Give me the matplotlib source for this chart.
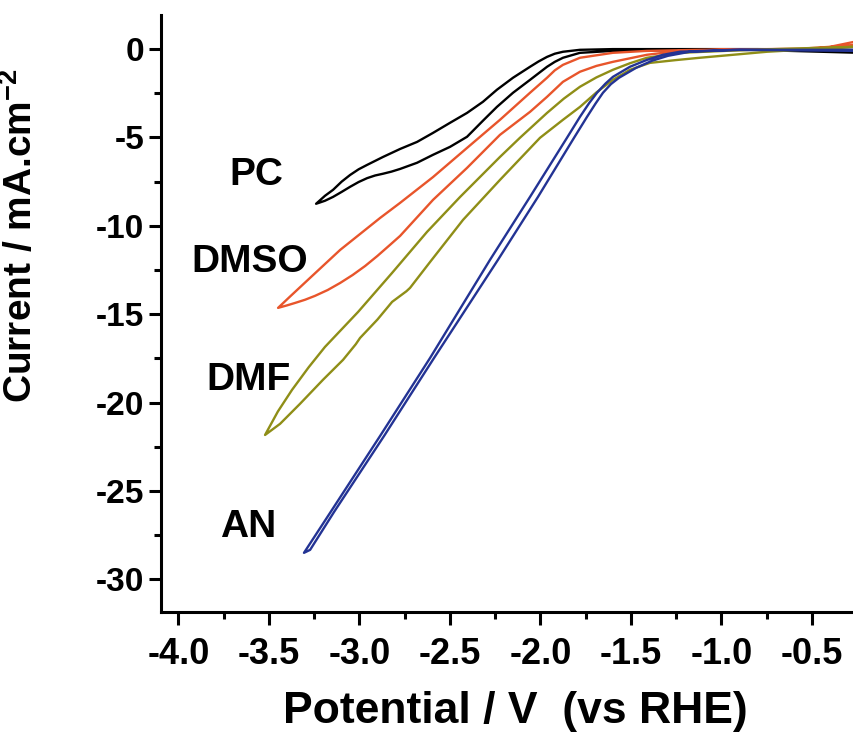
import matplotlib
matplotlib.use("Agg")
import matplotlib.pyplot as plt
from matplotlib.ticker import MultipleLocator, FormatStrFormatter

plt.rcParams['font.family'] = ['Liberation Sans', 'DejaVu Sans']
plt.rcParams['font.weight'] = 'bold'
plt.rcParams['axes.unicode_minus'] = False
plt.rcParams['mathtext.fontset'] = 'custom'
plt.rcParams['mathtext.rm'] = 'Liberation Sans:bold'
plt.rcParams['mathtext.bf'] = 'Liberation Sans:bold'

# PC (black) - two branches of the sweep, both starting at the vertex
pc_x_a = [-3.239, -3.190, -3.145, -3.098, -3.051, -3.004, -2.957, -2.869, -2.775, -2.681,
          -2.593, -2.499, -2.405, -2.317, -2.240, -2.151, -2.057, -2.010, -1.963, -1.920,
          -1.875, -1.781, -1.599, -1.2, -0.8, -0.27]
pc_y_a = [-8.75, -8.30, -7.96, -7.50, -7.12, -6.80, -6.55, -6.10, -5.65, -5.25,
          -4.74, -4.17, -3.61, -2.98, -2.30, -1.62, -1.00, -0.70, -0.44, -0.26,
          -0.15, -0.04, 0.0, 0.0, 0.0, -0.05]
pc_x_b = [-3.239, -3.190, -3.145, -3.098, -3.051, -3.004, -2.957, -2.913, -2.869, -2.822,
          -2.775, -2.681, -2.593, -2.499, -2.405, -2.317, -2.240, -2.151, -2.057, -1.963,
          -1.920, -1.875, -1.781, -1.599, -1.2, -0.8, -0.27]
pc_y_b = [-8.75, -8.58, -8.36, -8.08, -7.79, -7.52, -7.30, -7.15, -7.05, -6.93,
          -6.78, -6.43, -5.98, -5.53, -4.96, -4.05, -3.27, -2.47, -1.74, -1.00,
          -0.72, -0.49, -0.21, -0.10, -0.05, -0.05, -0.20]

# DMSO (orange)
dmso_x_a = [-3.449, -3.383, -3.272, -3.106, -2.885, -2.775, -2.593, -2.405, -2.223, -2.057,
            -1.963, -1.920, -1.875, -1.781, -1.599, -1.411, -1.119, -0.565, -0.399, -0.267]
dmso_y_a = [-14.64, -14.0, -12.94, -11.36, -9.55, -8.70, -7.24, -5.59, -4.00, -2.47,
            -1.62, -1.20, -0.89, -0.49, -0.21, -0.10, -0.04, 0.02, 0.13, 0.41]
dmso_x_b = [-3.449, -3.400, -3.355, -3.300, -3.245, -3.175, -3.106, -3.037, -2.968, -2.900,
            -2.830, -2.775, -2.593, -2.405, -2.223, -2.057, -1.963, -1.875, -1.781, -1.690,
            -1.599, -1.411, -1.229, -1.008, -0.565, -0.267]
dmso_y_b = [-14.64, -14.50, -14.36, -14.18, -13.96, -13.63, -13.23, -12.78, -12.27, -11.70,
            -11.07, -10.57, -8.53, -6.72, -4.85, -3.55, -2.70, -1.85, -1.28, -0.95,
            -0.72, -0.32, -0.10, -0.04, -0.04, 0.24]

# DMF (olive)
dmf_x_a = [-3.521, -3.450, -3.372, -3.280, -3.190, -3.007, -2.819, -2.626, -2.443, -2.223,
           -2.113, -1.963, -1.870, -1.781, -1.690, -1.599, -1.505, -1.411, -1.229, -0.842,
           -0.267]
dmf_y_a = [-21.83, -20.50, -19.28, -18.00, -16.85, -14.87, -12.66, -10.34, -8.36, -6.10,
           -5.02, -3.61, -2.80, -2.13, -1.60, -1.17, -0.80, -0.49, -0.21, -0.04,
           0.13]
dmf_x_b = [-3.521, -3.438, -3.328, -3.201, -3.090, -3.020, -2.996, -2.900, -2.819, -2.740,
           -2.720, -2.609, -2.427, -2.223, -2.002, -1.875, -1.781, -1.690, -1.599, -1.505,
           -1.395, -1.250, -1.119, -0.748, -0.267]
dmf_y_b = [-21.83, -21.20, -20.07, -18.71, -17.58, -16.70, -16.34, -15.30, -14.30, -13.70,
           -13.51, -12.04, -9.66, -7.40, -5.02, -4.00, -3.27, -2.45, -1.74, -1.17,
           -0.78, -0.62, -0.49, -0.15, 0.13]

# AN (blue)
an_x_a = [-3.306, -3.162, -2.885, -2.609, -2.278, -2.057, -1.853, -1.781, -1.730, -1.687,
          -1.640, -1.599, -1.505, -1.411, -1.322, -1.229, -0.936, -0.267]
an_y_a = [-28.50, -26.24, -21.88, -17.47, -11.92, -8.36, -5.02, -3.83, -3.05, -2.47,
          -1.95, -1.57, -1.00, -0.61, -0.32, -0.15, -0.04, -0.04]
an_x_b = [-3.306, -3.272, -3.140, -2.863, -2.587, -2.234, -2.013, -1.814, -1.742, -1.695,
          -1.654, -1.610, -1.565, -1.471, -1.383, -1.295, -1.174, -0.897, -0.267]
an_y_b = [-28.50, -28.33, -26.19, -21.88, -17.47, -11.92, -8.36, -5.02, -3.83, -3.08,
          -2.47, -1.98, -1.62, -1.06, -0.66, -0.38, -0.15, -0.04, -0.10]

labels = ['PC', 'DMSO', 'DMF', 'AN']
label_x = [-3.571, -3.604, -3.615, -3.615]
label_y = [-7.11, -12.04, -18.71, -27.03]

fig = plt.figure(figsize=(8.54, 7.41), dpi=100)
ax = fig.add_axes([0.1885, 0.174, 0.8115, 0.806])

curves = [
    (pc_x_a, pc_y_a, pc_x_b, pc_y_b, '#000000'),
    (dmso_x_a, dmso_y_a, dmso_x_b, dmso_y_b, '#E8552B'),
    (dmf_x_a, dmf_y_a, dmf_x_b, dmf_y_b, '#8F8E17'),
    (an_x_a, an_y_a, an_x_b, an_y_b, '#233394'),
]
for xa, ya, xb, yb, c in curves:
    ax.plot(xa[::-1] + xb, ya[::-1] + yb, color=c, lw=1.7,
            solid_joinstyle='round', solid_capstyle='round')

for t, x, y in zip(labels, label_x, label_y):
    ax.text(x, y, t, fontsize=28, fontweight='bold', ha='center', va='center')

ax.set_xlim(-4.096, -0.267)
ax.set_ylim(-31.85, 1.94)

ax.xaxis.set_major_locator(MultipleLocator(0.5))
ax.xaxis.set_minor_locator(MultipleLocator(0.25))
ax.yaxis.set_major_locator(MultipleLocator(5))
ax.yaxis.set_minor_locator(MultipleLocator(2.5))
ax.xaxis.set_major_formatter(FormatStrFormatter('%.1f'))
ax.yaxis.set_major_formatter(FormatStrFormatter('%d'))

for s in ['top', 'right']:
    ax.spines[s].set_visible(False)
for s in ['left', 'bottom']:
    ax.spines[s].set_linewidth(2.2)

ax.tick_params(which='major', direction='out', length=9, width=2.2)
ax.tick_params(which='minor', direction='out', length=5, width=2.2)
ax.tick_params(axis='y', pad=3, labelsize=24)
ax.tick_params(axis='x', pad=9, labelsize=26)

ax.set_xlabel('Potential / V  (vs RHE)', fontsize=32, fontweight='bold')
ax.xaxis.set_label_coords(0.511, -0.132)
ax.set_ylabel(r'Current / mA.cm$^{\mathbf{-2}}$', fontsize=28, fontweight='bold')
ax.yaxis.set_label_coords(-0.175, 0.63)

fig.savefig('out.png', dpi=100)
